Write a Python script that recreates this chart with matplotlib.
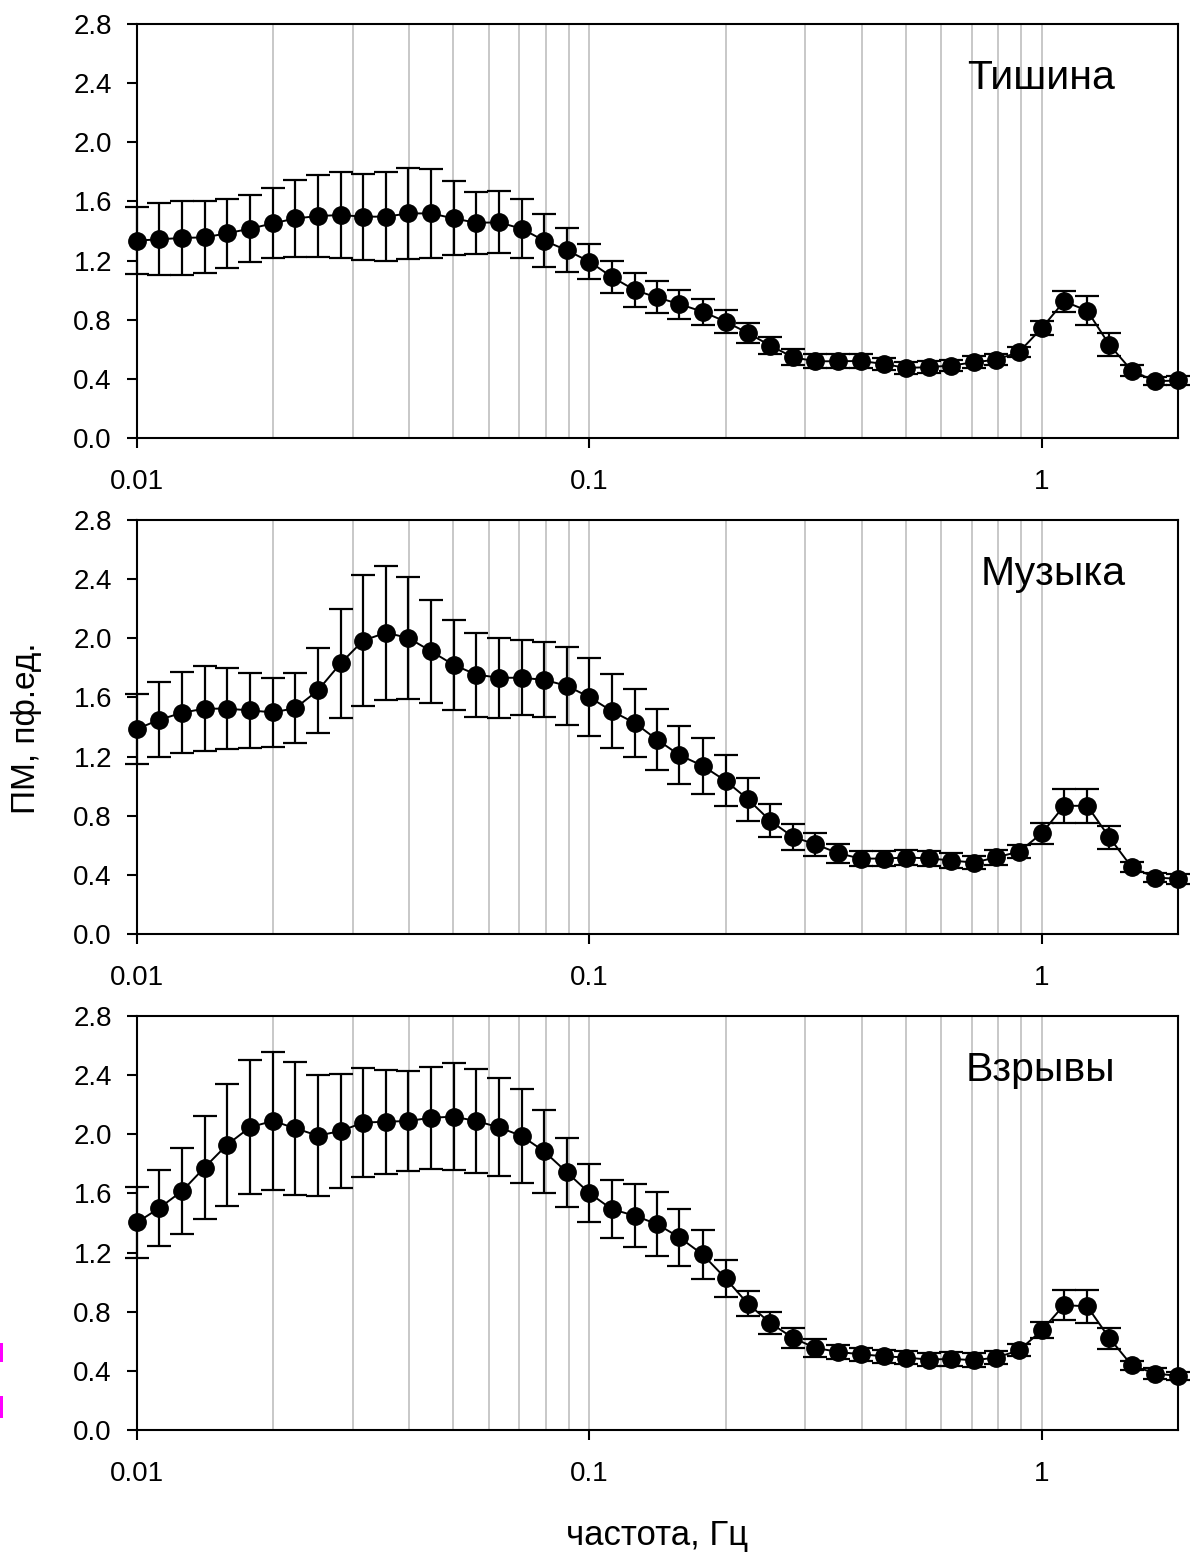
import numpy as np
import matplotlib
matplotlib.use('Agg')
from matplotlib import pyplot as plt
from matplotlib.ticker import LogLocator, FixedLocator, FixedFormatter, NullFormatter
from matplotlib.patches import Rectangle

plt.rcParams['font.family'] = ['Liberation Sans', 'DejaVu Sans']

freq = [0.0100, 0.0112, 0.0126, 0.0141, 0.0158, 0.0178, 0.0200, 0.0224, 0.0251, 0.0282,
        0.0316, 0.0355, 0.0398, 0.0447, 0.0501, 0.0562, 0.0631, 0.0708, 0.0794, 0.0891,
        0.100, 0.112, 0.126, 0.141, 0.158, 0.178, 0.200, 0.224, 0.251, 0.282,
        0.316, 0.355, 0.398, 0.447, 0.501, 0.562, 0.631, 0.708, 0.794, 0.891,
        1.00, 1.12, 1.26, 1.41, 1.58, 1.78, 2.00]

silence_mean = [1.335, 1.344, 1.353, 1.357, 1.384, 1.416, 1.452, 1.485, 1.501, 1.508,
                1.497, 1.497, 1.519, 1.519, 1.485, 1.456, 1.458, 1.416, 1.335, 1.270,
                1.193, 1.090, 1.000, 0.951, 0.906, 0.854, 0.787, 0.710, 0.625, 0.546,
                0.519, 0.519, 0.521, 0.501, 0.474, 0.479, 0.490, 0.512, 0.530, 0.582,
                0.744, 0.924, 0.861, 0.631, 0.456, 0.384, 0.389]
silence_err = [0.225, 0.243, 0.250, 0.244, 0.233, 0.228, 0.236, 0.260, 0.280, 0.290,
               0.290, 0.300, 0.310, 0.300, 0.250, 0.210, 0.210, 0.200, 0.180, 0.150,
               0.117, 0.109, 0.113, 0.108, 0.098, 0.088, 0.076, 0.066, 0.058, 0.054,
               0.048, 0.048, 0.048, 0.042, 0.040, 0.042, 0.040, 0.040, 0.035, 0.036,
               0.048, 0.071, 0.099, 0.077, 0.036, 0.027, 0.030]

music_mean = [1.387, 1.449, 1.497, 1.524, 1.524, 1.512, 1.499, 1.528, 1.647, 1.831,
              1.984, 2.038, 2.002, 1.912, 1.820, 1.755, 1.733, 1.733, 1.719, 1.679,
              1.602, 1.508, 1.427, 1.315, 1.211, 1.137, 1.036, 0.912, 0.766, 0.656,
              0.607, 0.546, 0.510, 0.510, 0.517, 0.512, 0.497, 0.483, 0.519, 0.557,
              0.681, 0.867, 0.867, 0.654, 0.452, 0.382, 0.373]
music_err = [0.237, 0.255, 0.275, 0.288, 0.276, 0.254, 0.234, 0.239, 0.289, 0.370,
             0.441, 0.454, 0.413, 0.348, 0.306, 0.284, 0.271, 0.255, 0.254, 0.263,
             0.262, 0.250, 0.227, 0.207, 0.196, 0.191, 0.172, 0.145, 0.113, 0.088,
             0.079, 0.063, 0.052, 0.052, 0.050, 0.050, 0.052, 0.045, 0.049, 0.045,
             0.070, 0.113, 0.115, 0.076, 0.036, 0.029, 0.035]

blast_mean = [1.404, 1.501, 1.618, 1.775, 1.928, 2.049, 2.090, 2.040, 1.991, 2.022,
              2.079, 2.085, 2.090, 2.112, 2.119, 2.090, 2.047, 1.989, 1.885, 1.744,
              1.602, 1.494, 1.449, 1.393, 1.303, 1.187, 1.025, 0.854, 0.724, 0.622,
              0.555, 0.528, 0.512, 0.499, 0.490, 0.476, 0.481, 0.472, 0.490, 0.539,
              0.674, 0.845, 0.836, 0.622, 0.438, 0.382, 0.366]
blast_err = [0.240, 0.258, 0.291, 0.348, 0.410, 0.455, 0.469, 0.449, 0.410, 0.386,
             0.371, 0.353, 0.339, 0.344, 0.362, 0.353, 0.332, 0.316, 0.282, 0.233,
             0.198, 0.196, 0.212, 0.217, 0.191, 0.164, 0.126, 0.085, 0.076, 0.068,
             0.059, 0.047, 0.044, 0.045, 0.044, 0.043, 0.045, 0.048, 0.042, 0.041,
             0.054, 0.103, 0.110, 0.071, 0.032, 0.034, 0.028]

panel_names = ['Тишина', 'Музыка', 'Взрывы']
means = [silence_mean, music_mean, blast_mean]
errs = [silence_err, music_err, blast_err]

y_ticks = [0.0, 0.4, 0.8, 1.2, 1.6, 2.0, 2.4, 2.8]
x_ticks = [0.01, 0.1, 1]
x_ticklabels = ['0.01', '0.1', '1']

W, H = 1195, 1553
fig = plt.figure(figsize=(W / 100, H / 100), dpi=100)

left = 137 / W
width = 1041 / W
tops = [24, 520, 1016]
ph = 414
name_x = [0.868, 0.880, 0.868]

for i in range(3):
    ax = fig.add_axes([left, 1 - (tops[i] + ph) / H, width, ph / H])
    ax.set_xscale('log')
    ax.set_xlim(0.01, 2.0)
    ax.set_ylim(0, 2.8)

    ax.errorbar(freq, means[i], yerr=errs[i], fmt='none', ecolor='black',
                elinewidth=1.6, capsize=8.5, capthick=1.6, clip_on=False, zorder=3)
    ax.plot(freq, means[i], color='black', linewidth=1.4, marker='o',
            markersize=12.5, markerfacecolor='black', markeredgecolor='black',
            clip_on=False, zorder=4)

    ax.xaxis.set_major_locator(FixedLocator(x_ticks))
    ax.xaxis.set_major_formatter(FixedFormatter(x_ticklabels))
    ax.xaxis.set_minor_locator(LogLocator(base=10, subs=np.arange(2, 10)))
    ax.xaxis.set_minor_formatter(NullFormatter())
    ax.grid(True, which='both', axis='x', color='#c4c4c4', linewidth=1.3, zorder=0)
    ax.set_axisbelow(True)

    ax.set_yticks(y_ticks)
    ax.set_yticklabels([f'{v:.1f}' for v in y_ticks])

    ax.tick_params(axis='both', which='major', direction='out', length=7.5,
                   width=1.5, labelsize=20)
    ax.tick_params(axis='y', which='major', pad=10.5)
    ax.tick_params(axis='x', which='major', pad=15)
    ax.tick_params(axis='x', which='minor', length=0)
    for sp in ax.spines.values():
        sp.set_linewidth(1.5)

    ax.text(name_x[i], 0.842, panel_names[i], transform=ax.transAxes,
            fontsize=29.5, ha='center', va='baseline')

fig.text(27 / W, 1 - 728 / H, 'ПМ, пф.ед.', rotation=90, fontsize=24,
         ha='center', va='center')
fig.text(657 / W, 1 - 1545 / H, 'частота, Гц', fontsize=25,
         ha='center', va='baseline')

# small magenta marks at the left edge
for y0, y1 in [(1343, 1362), (1396, 1418)]:
    fig.add_artist(Rectangle((0, 1 - y1 / H), 3 / W, (y1 - y0) / H,
                             transform=fig.transFigure, color='#ff00ff', lw=0))

fig.savefig('out.png', dpi=100)
